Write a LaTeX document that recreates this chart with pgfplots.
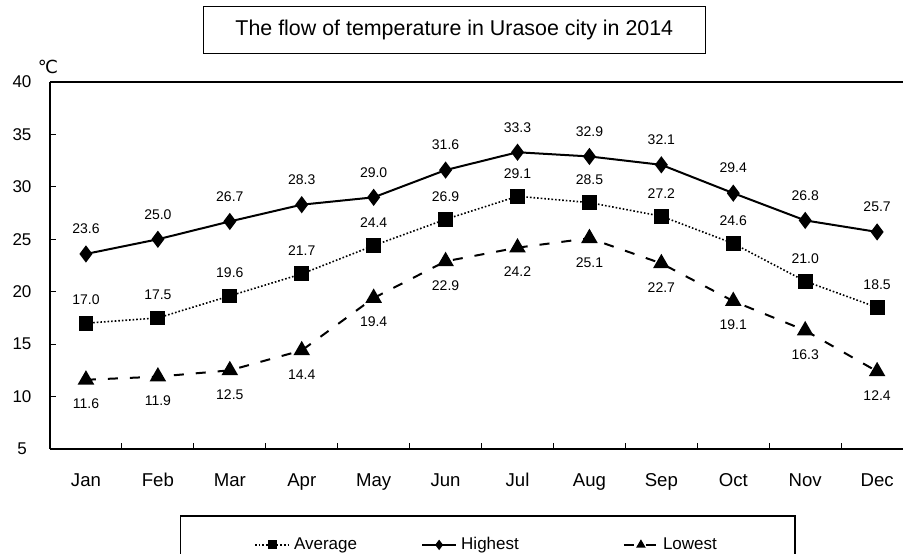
\documentclass[border=0pt]{standalone}
\usepackage{fontspec}
\setmainfont{Liberation Sans}
\newfontfamily\dejavu{DejaVu Sans}
\usepackage{pgfplots}
\pgfplotsset{compat=1.18}
\begin{document}
\begin{tikzpicture}
\begin{axis}[
  name=ax,
  scale only axis,
  width=426.5pt, height=183.5pt,
  xmin=-0.5, xmax=11.36,
  ymin=5, ymax=40,
  axis x line*=bottom, axis y line*=left,
  axis line style={line width=0.9pt},
  tick align=inside,
  xtick={0,...,11},
  xticklabels={Jan,Feb,Mar,Apr,May,Jun,Jul,Aug,Sep,Oct,Nov,Dec},
  major x tick style={draw=none},
  minor xtick={0.5,1.5,...,10.5},
  minor tick length=3pt,
  major tick length=3pt,
  every tick/.style={black, line width=0.5pt},
  ytick={5,10,...,40},
  /pgf/number format/assume math mode=true,
  xticklabel style={font=\fontsize{9.3}{10}\selectfont, anchor=base, yshift=-19pt},
  yticklabel style={font=\fontsize{8.5}{10}\selectfont, anchor=center, xshift=-14pt},
  title={The flow of temperature in Urasoe city in 2014},
  title style={at={(0.474,1)}, anchor=center, yshift=20pt, draw, line width=0.8pt,
    minimum width=251pt, minimum height=23.5pt, font=\fontsize{10.7}{12}\selectfont},
  legend columns=3,
  legend style={at={(0.513,0)}, anchor=north, yshift=-33pt, draw, line width=0.8pt,
    inner xsep=37pt, inner ysep=8.5pt, font=\fontsize{8.5}{9}\selectfont,
    nodes={text height=6.3pt, text depth=1.8pt},
    /tikz/column 2/.style={column sep=30pt},
    /tikz/column 4/.style={column sep=50pt}},
  legend image post style={mark size=1.8pt},
  nodes near coords,
  point meta=explicit symbolic,
  every node near coord/.append style={font=\fontsize{7}{8}\selectfont, anchor=center},
  clip=false,
]
\addplot[black, line width=0.8pt, densely dotted, mark=square*, mark size=3.3pt,
  mark options={solid}, every node near coord/.append style={yshift=11.5pt}]
  coordinates {(0,17.0)[17.0] (1,17.5)[17.5] (2,19.6)[19.6] (3,21.7)[21.7] (4,24.4)[24.4] (5,26.9)[26.9]
  (6,29.1)[29.1] (7,28.5)[28.5] (8,27.2)[27.2] (9,24.6)[24.6] (10,21.0)[21.0] (11,18.5)[18.5]};
\addlegendentry{Average}
\addplot[black, line width=1pt, solid, mark=diamond*, mark size=3.5pt,
  every node near coord/.append style={yshift=12.5pt}]
  coordinates {(0,23.6)[23.6] (1,25.0)[25.0] (2,26.7)[26.7] (3,28.3)[28.3] (4,29.0)[29.0] (5,31.6)[31.6]
  (6,33.3)[33.3] (7,32.9)[32.9] (8,32.1)[32.1] (9,29.4)[29.4] (10,26.8)[26.8] (11,25.7)[25.7]};
\addlegendentry{Highest}
\addplot[black, line width=1pt, dash pattern=on 5pt off 6pt, mark=triangle*, mark size=3.8pt,
  mark options={solid}, every node near coord/.append style={yshift=-12pt}]
  coordinates {(0,11.6)[11.6] (1,11.9)[11.9] (2,12.5)[12.5] (3,14.4)[14.4] (4,19.4)[19.4] (5,22.9)[22.9]
  (6,24.2)[24.2] (7,25.1)[25.1] (8,22.7)[22.7] (9,19.1)[19.1] (10,16.3)[16.3] (11,12.4)[12.4]};
\addlegendentry{Lowest}
\end{axis}
\draw[line width=0.9pt] (ax.north west) -- (ax.north east);
\node[font=\dejavu\fontsize{9}{10}\selectfont, anchor=center] at ([xshift=-1pt, yshift=7.5pt]ax.north west) {℃};
\pgfresetboundingbox
\path[use as bounding box] ([xshift=-25pt,yshift=-52.5pt]ax.south west) rectangle ([yshift=41pt]ax.north east);
\end{tikzpicture}
\end{document}
